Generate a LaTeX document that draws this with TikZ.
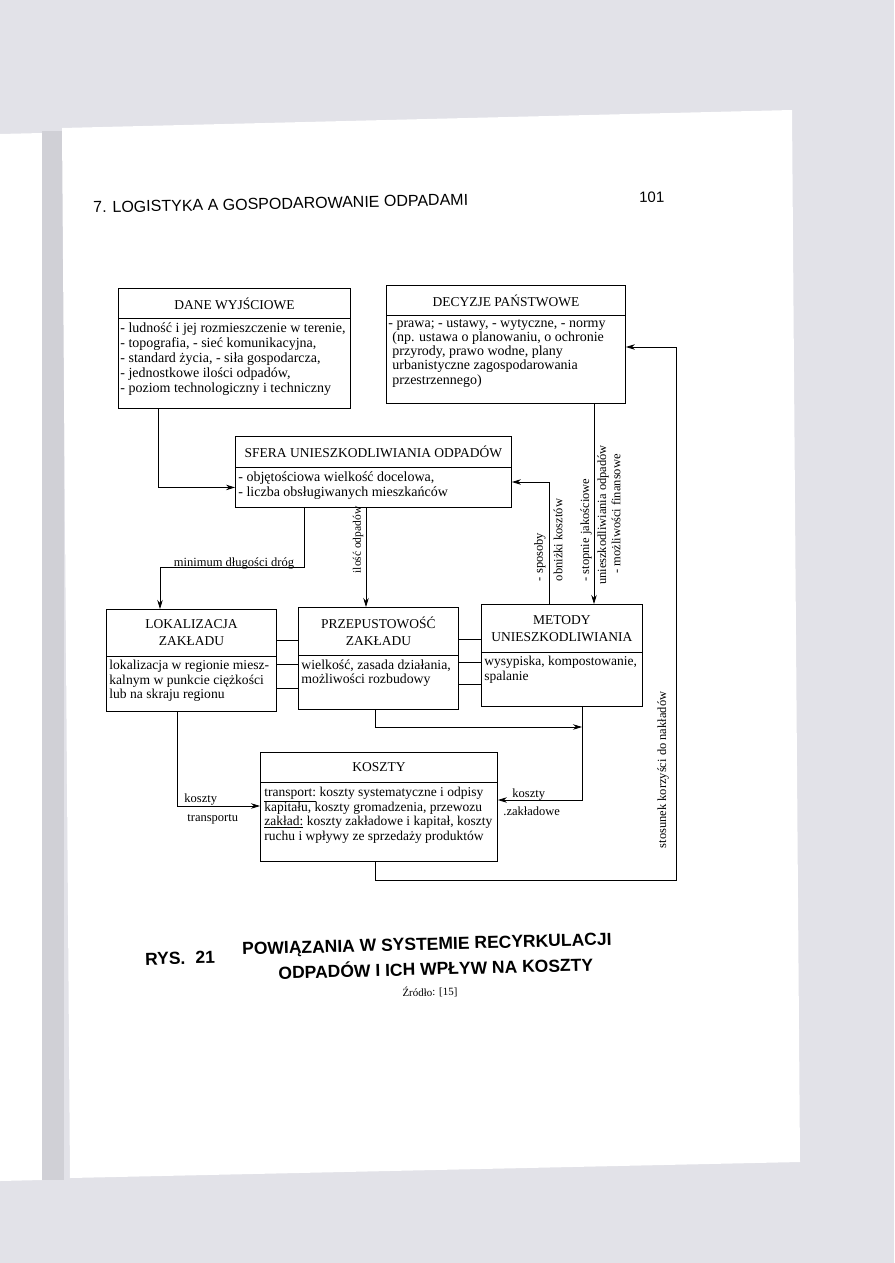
\documentclass[tikz,border=0pt]{standalone}
\usepackage{fontspec}
\setmainfont{Liberation Serif}
\newfontfamily\hsans{Liberation Sans}
\usetikzlibrary{arrows.meta,calc}
\definecolor{bgc}{RGB}{226,226,232}
\definecolor{gut}{RGB}{208,208,214}
\begin{document}
\begin{tikzpicture}[x=1pt,y=-1pt,
  line width=0.8pt,
  arr/.style={-{Stealth[length=9pt,width=5.5pt]}},
  frame/.style={draw, line width=0.9pt, inner sep=0pt, anchor=north west},
  ttl/.style={inner sep=0pt, align=center, font=\fontsize{13.5}{17}\selectfont},
  bdy/.style={inner sep=0pt, align=left, anchor=north west, font=\fontsize{14}{15}\selectfont},
  lbl/.style={inner sep=0pt, font=\fontsize{12.5}{14}\selectfont},
  capf/.style={inner sep=0pt, font=\hsans\bfseries\fontsize{17.5}{20}\selectfont},
]
\useasboundingbox (0,0) rectangle (894,1263);
% page background
\fill[bgc] (0,0) rectangle (894,1263);
\fill[white] (0,134) -- (42,133) -- (42,1180) -- (0,1181) -- cycle;
\fill[gut] (42,131) rectangle (64,1180);
\fill[white] (62,128) -- (792,110) -- (800,1162) -- (70,1178) -- cycle;

% header
\node[inner sep=0pt, anchor=base west, rotate=1.2, font=\hsans\fontsize{16}{18}\selectfont] (hdr) at (93,213) {7. LOGISTYKA A GOSPODAROWANIE ODPADAMI};
\node[inner sep=0pt, anchor=base west, rotate=1.2, font=\hsans\fontsize{15}{18}\selectfont] (pg) at (639,203) {101};

% boxes
\node[frame, minimum width=232, minimum height=30] (danet) at (118,288) {};
\node[frame, minimum width=232, minimum height=90] (daneb) at (118,318) {};
\node[ttl] (danett) at (danet.center) {DANE WYJŚCIOWE};
\node[bdy] (danebt) at ($(daneb.north west)+(2,4)$) {- ludność i jej rozmieszczenie w terenie,\\- topografia, - sieć komunikacyjna,\\- standard życia, - siła gospodarcza,\\- jednostkowe ilości odpadów,\\- poziom technologiczny i techniczny};

\node[frame, minimum width=239, minimum height=30] (dect) at (386,285) {};
\node[frame, minimum width=239, minimum height=88] (decb) at (386,315) {};
\node[ttl] (dectt) at (dect.center) {DECYZJE PAŃSTWOWE};
\node[bdy, font=\fontsize{14}{14.2}\selectfont] (decbt) at ($(decb.north west)+(2,4)$) {- prawa; - ustawy, - wytyczne, - normy\\\hspace{4pt}(np. ustawa o planowaniu, o ochronie\\\hspace{4pt}przyrody, prawo wodne, plany\\\hspace{4pt}urbanistyczne zagospodarowania\\\hspace{4pt}przestrzennego)};

\node[frame, minimum width=276, minimum height=31] (sferat) at (235,436) {};
\node[frame, minimum width=276, minimum height=40] (sferab) at (235,467) {};
\node[ttl] (sferatt) at (sferat.center) {SFERA UNIESZKODLIWIANIA ODPADÓW};
\node[bdy] (sferabt) at ($(sferab.north west)+(3,4)$) {- objętościowa wielkość docelowa,\\- liczba obsługiwanych mieszkańców};

\node[frame, minimum width=170, minimum height=47] (lokt) at (106,609) {};
\node[frame, minimum width=170, minimum height=55] (lokb) at (106,656) {};
\node[ttl] (loktt) at (lokt.center) {LOKALIZACJA\\ZAKŁADU};
\node[bdy, font=\fontsize{13.6}{14.5}\selectfont] (lokbt) at ($(lokb.north west)+(3,4)$) {lokalizacja w regionie miesz-\\kalnym w punkcie ciężkości\\lub na skraju regionu};

\node[frame, minimum width=160, minimum height=48] (przt) at (298,607) {};
\node[frame, minimum width=160, minimum height=54] (przb) at (298,655) {};
\node[ttl] (prztt) at (przt.center) {PRZEPUSTOWOŚĆ\\ZAKŁADU};
\node[bdy, font=\fontsize{13.8}{14.5}\selectfont] (przbt) at ($(przb.north west)+(3,4)$) {wielkość, zasada działania,\\możliwości rozbudowy};

\node[frame, minimum width=161, minimum height=48] (mett) at (481,604) {};
\node[frame, minimum width=161, minimum height=54] (metb) at (481,652) {};
\node[ttl] (mettt) at (mett.center) {METODY\\UNIESZKODLIWIANIA};
\node[bdy, font=\fontsize{13.5}{15}\selectfont] (metbt) at ($(metb.north west)+(3,4)$) {wysypiska, kompostowanie,\\spalanie};

\node[frame, minimum width=237, minimum height=30] (kost) at (260,752) {};
\node[frame, minimum width=237, minimum height=79] (kosb) at (260,782) {};
\node[ttl] (kostt) at (kost.center) {KOSZTY};
\node[bdy, font=\fontsize{13.5}{14.5}\selectfont] (kosbt) at ($(kosb.north west)+(4,5)$) {\underline{transport:} koszty systematyczne i odpisy\\kapitału, koszty gromadzenia, przewozu\\\underline{zakład:} koszty zakładowe i kapitał, koszty\\ruchu i wpływy ze sprzedaży produktów};

% connectors
\coordinate (mdl) at (160,567);
\coordinate (jn) at (582,727);
\coordinate (rb) at (676,880);
\draw[arr] ($(daneb.south west)+(40,0)$) |- (sferab.west);
\draw[arr] (decb.south -| 594,0) -- (mett.north -| 594,0);
\draw[arr] (mett.north -| 549,0) |- (sferab.east |- 0,482);
\draw[arr] (kosb.south -| 375,0) |- (rb) |- (decb.east |- 0,347);
\draw[arr] (sferab.south -| 304,0) |- (mdl) -- (lokt.north -| mdl);
\draw[arr] (sferab.south -| 366,0) -- (przt.north -| 366,0);
\draw (lokt.east |- 0,640) -- (przt.west |- 0,640);
\draw (lokb.east |- 0,664) -- (przb.west |- 0,664);
\draw (lokb.east |- 0,688) -- (przb.west |- 0,688);
\draw (przt.east |- 0,639) -- (mett.west |- 0,639);
\draw (przb.east |- 0,662) -- (metb.west |- 0,662);
\draw (przb.east |- 0,684) -- (metb.west |- 0,684);
\draw[arr] (przb.south -| 375,0) |- (jn);
\draw[arr] (metb.south -| 582,0) |- (kosb.east |- 0,800);
\draw[arr] (lokb.south -| 177,0) |- (kosb.west |- 0,806);

% labels
\node[lbl, anchor=base] (lmin) at (234,566) {minimum długości dróg};
\node[lbl, rotate=90, font=\fontsize{11.5}{13}\selectfont] (lil) at (358,540) {ilość odpadów};
\node[lbl, rotate=90] (lsp) at (540,557) {- sposoby};
\node[lbl, rotate=90] (lob) at (558,540) {obniżki kosztów};
\node[lbl, rotate=90] (lst) at (586,530) {- stopnie jakościowe};
\node[lbl, rotate=90] (lun) at (603,515) {unieszkodliwiania odpadów};
\node[lbl, rotate=90] (lmo) at (616,514) {- możliwości finansowe};
\node[lbl, rotate=90] (lsk) at (663,770) {stosunek korzyści do nakładów};
\node[lbl, anchor=base west] (lkt1) at (184,802) {koszty};
\node[lbl, anchor=base west] (lkt2) at (187,821) {transportu};
\node[lbl, anchor=base west] (lkz1) at (512,797) {koszty};
\node[lbl, anchor=base west] (lkz2) at (503,815) {.zakładowe};

% caption
\node[capf, anchor=base west, rotate=1.5] (rys) at (145,965) {RYS.\hspace{10pt}21};
\node[capf, anchor=base, rotate=1.5] (cap1) at (427,950) {POWIĄZANIA W SYSTEMIE RECYRKULACJI};
\node[capf, anchor=base, rotate=1.5] (cap2) at (436,975) {ODPADÓW I ICH WPŁYW NA KOSZTY};
\node[inner sep=0pt, anchor=base, rotate=1, font=\fontsize{11}{12}\selectfont] (src) at (430,996) {Źródło: [15]};
\end{tikzpicture}
\end{document}
